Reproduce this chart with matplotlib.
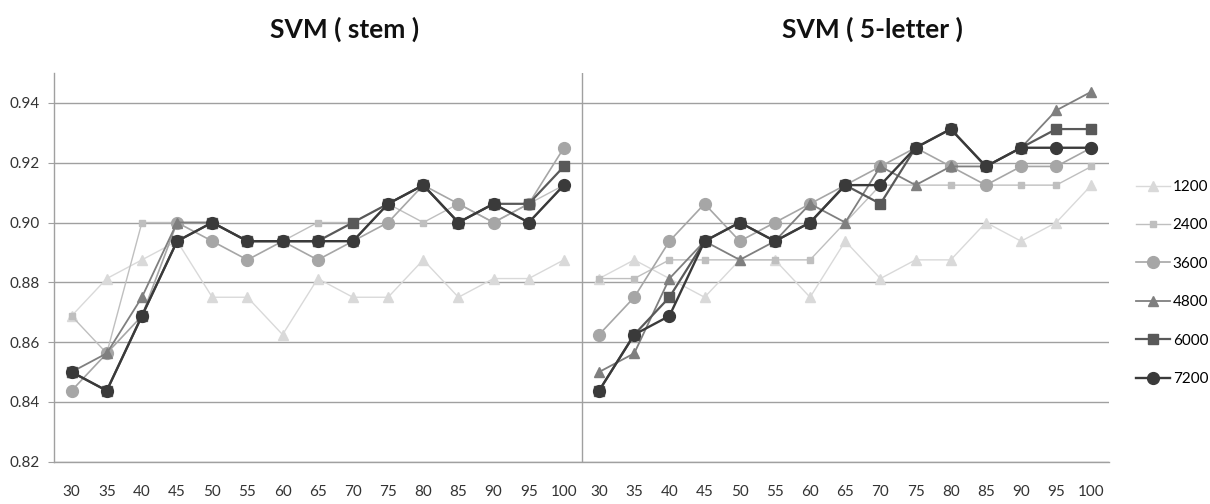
import matplotlib
matplotlib.use("Agg")
import matplotlib.pyplot as plt
from matplotlib.lines import Line2D

plt.rcParams['font.family'] = ['Lato', 'DejaVu Sans']

x_labels = [30, 35, 40, 45, 50, 55, 60, 65, 70, 75, 80, 85, 90, 95, 100]
sizes = ["1200", "2400", "3600", "4800", "6000", "7200"]

# SVM (stem)
stem_1200 = [0.86875, 0.88125, 0.8875, 0.89375, 0.875, 0.875, 0.8625, 0.88125,
             0.875, 0.875, 0.8875, 0.875, 0.88125, 0.88125, 0.8875]
stem_2400 = [0.86875, 0.85625, 0.90, 0.90, 0.90, 0.89375, 0.89375, 0.90,
             0.90, 0.90625, 0.90, 0.90625, 0.90, 0.90625, 0.9125]
stem_3600 = [0.84375, 0.85625, 0.86875, 0.90, 0.89375, 0.8875, 0.89375, 0.8875,
             0.89375, 0.90, 0.9125, 0.90625, 0.90, 0.90625, 0.925]
stem_4800 = [0.85, 0.85625, 0.875, 0.90, 0.90, 0.89375, 0.89375, 0.89375,
             0.89375, 0.90625, 0.9125, 0.90, 0.90625, 0.90, 0.9125]
stem_6000 = [0.85, 0.84375, 0.86875, 0.89375, 0.90, 0.89375, 0.89375, 0.89375,
             0.90, 0.90625, 0.9125, 0.90, 0.90625, 0.90625, 0.91875]
stem_7200 = [0.85, 0.84375, 0.86875, 0.89375, 0.90, 0.89375, 0.89375, 0.89375,
             0.89375, 0.90625, 0.9125, 0.90, 0.90625, 0.90, 0.9125]

# SVM (5-letter)
five_1200 = [0.88125, 0.8875, 0.88125, 0.875, 0.8875, 0.8875, 0.875, 0.89375,
             0.88125, 0.8875, 0.8875, 0.90, 0.89375, 0.90, 0.9125]
five_2400 = [0.88125, 0.88125, 0.8875, 0.8875, 0.8875, 0.8875, 0.8875, 0.90,
             0.9125, 0.9125, 0.9125, 0.9125, 0.9125, 0.9125, 0.91875]
five_3600 = [0.8625, 0.875, 0.89375, 0.90625, 0.89375, 0.90, 0.90625, 0.9125,
             0.91875, 0.925, 0.91875, 0.9125, 0.91875, 0.91875, 0.925]
five_4800 = [0.85, 0.85625, 0.88125, 0.89375, 0.8875, 0.89375, 0.90625, 0.90,
             0.91875, 0.9125, 0.91875, 0.91875, 0.925, 0.9375, 0.94375]
five_6000 = [0.84375, 0.8625, 0.875, 0.89375, 0.90, 0.89375, 0.90, 0.9125,
             0.90625, 0.925, 0.93125, 0.91875, 0.925, 0.93125, 0.93125]
five_7200 = [0.84375, 0.8625, 0.86875, 0.89375, 0.90, 0.89375, 0.90, 0.9125,
             0.9125, 0.925, 0.93125, 0.91875, 0.925, 0.925, 0.925]

stem = [stem_1200, stem_2400, stem_3600, stem_4800, stem_6000, stem_7200]
five = [five_1200, five_2400, five_3600, five_4800, five_6000, five_7200]

colors = ["#d9d9d9", "#bfbfbf", "#a6a6a6", "#7f7f7f", "#595959", "#3a3a3a"]
markers = ["^", "s", "o", "^", "s", "o"]
msizes = [6.5, 5, 8.5, 6.5, 7.5, 8.5]
lwidths = [1.0, 1.0, 1.2, 1.3, 1.6, 1.7]

fig = plt.figure(figsize=(12.1, 5.04), dpi=100)
ax = fig.add_axes([54 / 1210, 1 - 461.7 / 504, (1109 - 54) / 1210, (461.7 - 73) / 504])

n = len(x_labels)
xs_left = list(range(n))
xs_right = list(range(n, 2 * n))

handles = []
for i in range(len(sizes)):
    kw = dict(color=colors[i], marker=markers[i], markersize=msizes[i],
              linewidth=lwidths[i], markeredgecolor=colors[i], zorder=3 + i)
    ax.plot(xs_left, stem[i], **kw)
    ax.plot(xs_right, five[i], **kw)
    handles.append(Line2D([], [], label=sizes[i], **kw))

ax.set_xlim(-0.5, 2 * n - 0.5)
ax.set_ylim(0.82, 0.95)
yt = [0.82, 0.84, 0.86, 0.88, 0.90, 0.92, 0.94]
ax.set_yticks(yt)
ax.set_yticklabels([f"{v:.2f}" for v in yt])
ax.set_xticks(xs_left + xs_right)
ax.set_xticklabels([str(v) for v in x_labels] * 2)
ax.yaxis.grid(True, color="#a0a0a0", linewidth=1.0, zorder=0)
ax.set_axisbelow(True)
ax.axvline(n - 0.5, color="#a0a0a0", linewidth=1.0, zorder=1)

for s in ["top", "right"]:
    ax.spines[s].set_visible(False)
for s in ["left", "bottom"]:
    ax.spines[s].set_color("#a0a0a0")
    ax.spines[s].set_linewidth(1.0)
ax.tick_params(axis="y", length=4, color="#a0a0a0", labelsize=11, labelcolor="#333333", pad=6)
ax.tick_params(axis="x", length=0, labelsize=11, labelcolor="#333333", pad=17)

fig.text(345 / 1210, 1 - 29 / 504, "SVM ( stem )", ha="center", va="center",
         fontsize=19, fontweight="bold", color="#111111")
fig.text(872 / 1210, 1 - 29 / 504, "SVM ( 5-letter )", ha="center", va="center",
         fontsize=19, fontweight="bold", color="#111111")

fig.legend(handles=handles, loc="center left", bbox_to_anchor=(1130 / 1210, 1 - 283 / 504),
           frameon=False, fontsize=11, handlelength=2.2, handletextpad=0.2,
           labelspacing=1.6, borderaxespad=0)

fig.savefig("out.png", dpi=100)
